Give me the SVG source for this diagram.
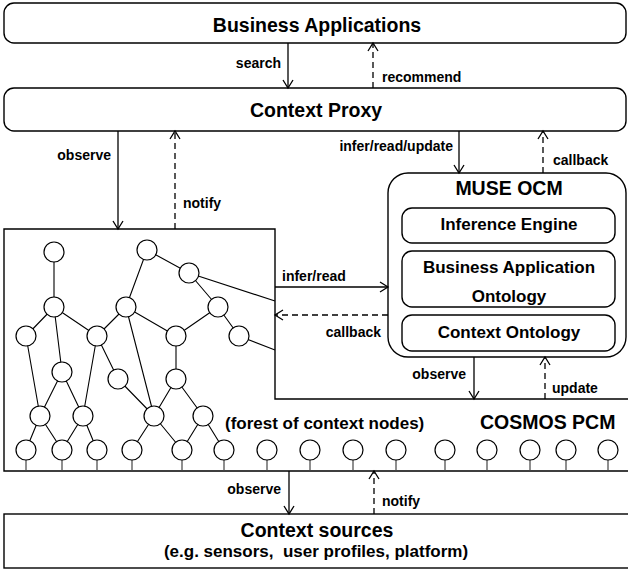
<svg xmlns="http://www.w3.org/2000/svg" width="628" height="571" viewBox="0 0 628 571">
<defs>
<style>
.box{fill:#fff;stroke:#000;stroke-width:1.4}
.t{font-family:"Liberation Sans",Arial,sans-serif;font-weight:bold;fill:#000}
.title{font-size:19.5px;text-anchor:middle}
.sub{font-size:17px;text-anchor:middle}
.lbl{font-size:14px}
.end{text-anchor:end}
.solid{stroke:#000;stroke-width:1.3;fill:none;marker-end:url(#arr)}
.dash{stroke:#000;stroke-width:1.3;fill:none;stroke-dasharray:6 4;marker-end:url(#arr)}
.edge{stroke:#000;stroke-width:1.1;fill:none}
.stem{stroke:#444;stroke-width:1.2;fill:none}
.n{fill:#fff;stroke:#000;stroke-width:1.2}
</style>
<marker id="arr" viewBox="-10 -6 12 12" refX="0" refY="0" markerWidth="12" markerHeight="12" markerUnits="userSpaceOnUse" orient="auto">
<path d="M-8,-5 L0,0 L-8,5" fill="none" stroke="#000" stroke-width="1.3"/>
</marker>
</defs>
<rect width="628" height="571" fill="#fff"/>

<g id="business-applications">
<rect class="box" x="4" y="3" width="622" height="40" rx="10"/>
<text class="t title" x="317" y="32">Business Applications</text>
</g>

<g id="context-proxy">
<rect class="box" x="4" y="88" width="622" height="43" rx="10"/>
<text class="t title" x="316" y="117">Context Proxy</text>
</g>

<g id="cosmos-pcm">
<path class="box" d="M4,229 H275 V399 H640 V471 H4 Z"/>
<text class="t lbl" style="font-size:17px" x="225" y="429">(forest of context nodes)</text>
<text class="t" style="font-size:19.5px" x="480" y="429">COSMOS PCM</text>
</g>

<g id="muse-ocm">
<rect class="box" x="388" y="173" width="238" height="184" rx="20"/>
<text class="t title" x="509" y="195">MUSE OCM</text>
</g>
<g id="inference-engine">
<rect class="box" x="402" y="208" width="213" height="35" rx="10"/>
<text class="t sub" x="509" y="230">Inference Engine</text>
</g>
<g id="business-application-ontology">
<rect class="box" x="402" y="251" width="213" height="56" rx="10"/>
<text class="t sub" x="509" y="273">Business Application</text>
<text class="t sub" x="509" y="302">Ontology</text>
</g>
<g id="context-ontology">
<rect class="box" x="402" y="315" width="213" height="36" rx="10"/>
<text class="t sub" x="509" y="338">Context Ontology</text>
</g>

<g id="context-sources">
<rect class="box" x="4" y="514" width="640" height="54"/>
<text class="t title" x="317" y="537">Context sources</text>
<text class="t sub" x="316" y="557" style="white-space:pre">(e.g. sensors,  user profiles, platform)</text>
</g>

<g id="forest">
<g id="forest-edges">
<path class="edge" d="M54,252 L54,307 M147,250 L126,307 M147,250 L189,273 M189,273 L218,307 M189,273 L275,301
M54,307 L26,336 M54,307 L97,336 M54,307 L62,372 M126,307 L97,336 M126,307 L176,336 M126,307 L154,416
M218,307 L176,336 M218,307 L239,336 M239,336 L275,350
M26,336 L40,416 M97,336 L83,416 M97,336 L118,379 M62,372 L40,416 M62,372 L83,416 M118,379 L154,416
M176,336 L176,379 M176,379 L154,416 M176,379 L203,416
M40,416 L26,450 M40,416 L62,450 M83,416 L62,450 M83,416 L97,450 M154,416 L132,450 M154,416 L182,450 M203,416 L182,450 M203,416 L224,450"/>
<path class="stem" d="M26,460 V471 M62,460 V471 M97,460 V471 M132,460 V471 M182,460 V471 M224,460 V471 M267,460 V471 M310,460 V471 M353,460 V471 M396,460 V471 M445,460 V471 M487,460 V471 M530,460 V471 M566,460 V471 M608,460 V471"/>
</g>
<circle id="nA" class="n" cx="54" cy="252" r="10"/>
<circle id="nB" class="n" cx="147" cy="250" r="10"/>
<circle id="nC" class="n" cx="189" cy="273" r="10"/>
<circle id="nD" class="n" cx="54" cy="307" r="10"/>
<circle id="nE" class="n" cx="126" cy="307" r="10"/>
<circle id="nF" class="n" cx="218" cy="307" r="10"/>
<circle id="nG" class="n" cx="26" cy="336" r="10"/>
<circle id="nH" class="n" cx="97" cy="336" r="10"/>
<circle id="nI" class="n" cx="176" cy="336" r="10"/>
<circle id="nJ" class="n" cx="239" cy="336" r="10"/>
<circle id="nK" class="n" cx="62" cy="372" r="10"/>
<circle id="nL" class="n" cx="118" cy="379" r="10"/>
<circle id="nM" class="n" cx="176" cy="379" r="10"/>
<circle id="nN" class="n" cx="40" cy="416" r="10"/>
<circle id="nO" class="n" cx="83" cy="416" r="10"/>
<circle id="nP" class="n" cx="154" cy="416" r="10"/>
<circle id="nQ" class="n" cx="203" cy="416" r="10"/>
<circle id="l1" class="n" cx="26" cy="450" r="10"/>
<circle id="l2" class="n" cx="62" cy="450" r="10"/>
<circle id="l3" class="n" cx="97" cy="450" r="10"/>
<circle id="l4" class="n" cx="132" cy="450" r="10"/>
<circle id="l5" class="n" cx="182" cy="450" r="10"/>
<circle id="l6" class="n" cx="224" cy="450" r="10"/>
<circle id="l7" class="n" cx="267" cy="450" r="10"/>
<circle id="l8" class="n" cx="310" cy="450" r="10"/>
<circle id="l9" class="n" cx="353" cy="450" r="10"/>
<circle id="l10" class="n" cx="396" cy="450" r="10"/>
<circle id="l11" class="n" cx="445" cy="450" r="10"/>
<circle id="l12" class="n" cx="487" cy="450" r="10"/>
<circle id="l13" class="n" cx="530" cy="450" r="10"/>
<circle id="l14" class="n" cx="566" cy="450" r="10"/>
<circle id="l15" class="n" cx="608" cy="450" r="10"/>
</g>

<g id="connectors">
<path class="solid" d="M288,43 V88"/>
<path class="dash" d="M373,88 V43"/>
<path class="solid" d="M118,131 V229"/>
<path class="dash" d="M175,229 V131"/>
<path class="solid" d="M459,131 V173"/>
<path class="dash" d="M543,173 V131"/>
<path class="solid" d="M275,287 H388"/>
<path class="dash" d="M388,315 H275"/>
<path class="solid" d="M474,357 V399"/>
<path class="dash" d="M545,399 V357"/>
<path class="solid" d="M289,471 V514"/>
<path class="dash" d="M374,514 V471"/>
<text class="t lbl end" x="281" y="68">search</text>
<text class="t lbl" x="382" y="82">recommend</text>
<text class="t lbl end" x="111" y="160">observe</text>
<text class="t lbl" x="183" y="208">notify</text>
<text class="t lbl end" x="453" y="151">infer/read/update</text>
<text class="t lbl" x="553" y="165">callback</text>
<text class="t lbl" x="282" y="281">infer/read</text>
<text class="t lbl end" x="381" y="337">callback</text>
<text class="t lbl end" x="466" y="379">observe</text>
<text class="t lbl" x="552" y="393">update</text>
<text class="t lbl end" x="281" y="494">observe</text>
<text class="t lbl" x="382" y="506">notify</text>
</g>
</svg>
